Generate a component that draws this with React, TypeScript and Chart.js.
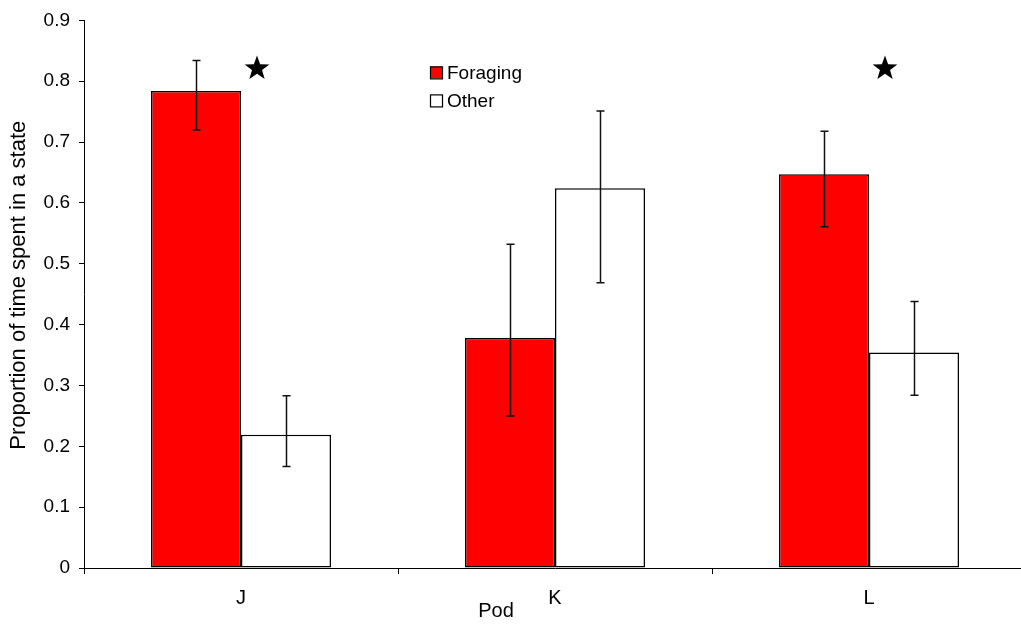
import React, { useEffect, useRef } from 'react';
import { Chart, registerables } from 'chart.js';

Chart.register(...registerables);

const categories = ['J', 'K', 'L'];
const seriesNames = ['Foraging', 'Other'];
const foraging = [0.784, 0.378, 0.647];
const other = [0.219, 0.624, 0.354];
const foragingLow = [0.72, 0.25, 0.561];
const foragingHigh = [0.834, 0.532, 0.718];
const otherLow = [0.167, 0.469, 0.284];
const otherHigh = [0.283, 0.751, 0.438];
const yTickLabels = ['0', '0.1', '0.2', '0.3', '0.4', '0.5', '0.6', '0.7', '0.8', '0.9'];
const starCategories = ['J', 'L'];
const starValue = 0.821;
const xTitle = 'Pod';
const yTitle = 'Proportion of time spent in a state';

const FONT = "'Liberation Sans', Arial, sans-serif";
const fillColors = ['#ff0000', '#ffffff'];

const errorBars = [
  { low: foragingLow, high: foragingHigh },
  { low: otherLow, high: otherHigh },
];

function drawStar(ctx: CanvasRenderingContext2D, cx: number, cy: number, R: number, r: number) {
  ctx.beginPath();
  for (let i = 0; i < 10; i++) {
    const rad = i % 2 === 0 ? R : r;
    const a = -Math.PI / 2 + (i * Math.PI) / 5;
    const x = cx + rad * Math.cos(a);
    const y = cy + rad * Math.sin(a);
    if (i === 0) ctx.moveTo(x, y);
    else ctx.lineTo(x, y);
  }
  ctx.closePath();
  ctx.fill();
}

const extrasPlugin = {
  id: 'extras',
  afterDatasetsDraw(chart: any) {
    const ctx: CanvasRenderingContext2D = chart.ctx;
    const y = chart.scales.y;
    ctx.save();
    ctx.strokeStyle = '#111';
    ctx.lineWidth = 1.5;
    errorBars.forEach((eb, di) => {
      const meta = chart.getDatasetMeta(di);
      meta.data.forEach((bar: any, j: number) => {
        const x = Math.round(bar.x) + 0.5;
        const yl = y.getPixelForValue(eb.low[j]);
        const yh = y.getPixelForValue(eb.high[j]);
        ctx.beginPath();
        ctx.moveTo(x, yl);
        ctx.lineTo(x, yh);
        ctx.moveTo(x - 4, yl);
        ctx.lineTo(x + 4, yl);
        ctx.moveTo(x - 4, yh);
        ctx.lineTo(x + 4, yh);
        ctx.stroke();
      });
    });
    ctx.restore();
  },
  afterDraw(chart: any) {
    const ctx: CanvasRenderingContext2D = chart.ctx;
    const xs = chart.scales.x;
    const ys = chart.scales.y;
    const area = chart.chartArea;
    ctx.save();
    // stars
    ctx.fillStyle = '#000';
    const catW = (xs.right - xs.left) / categories.length;
    starCategories.forEach((c) => {
      const idx = categories.indexOf(c);
      const cx = xs.getPixelForValue(idx) + catW * 0.051;
      const cy = ys.getPixelForValue(starValue);
      drawStar(ctx, cx, cy, 13, 5.3);
    });
    // legend
    const lx = area.left + 346;
    const ly = area.top + 46;
    seriesNames.forEach((name, i) => {
      const top = ly + i * 28;
      ctx.fillStyle = fillColors[i];
      ctx.fillRect(lx, top, 12, 12);
      ctx.strokeStyle = '#000';
      ctx.lineWidth = 1.2;
      ctx.strokeRect(lx + 0.5, top + 0.5, 12, 12);
      ctx.fillStyle = '#000';
      ctx.font = `19px ${FONT}`;
      ctx.textAlign = 'left';
      ctx.textBaseline = 'middle';
      ctx.fillText(name, lx + 17, top + 7);
    });
    // x title
    ctx.font = `20px ${FONT}`;
    ctx.textAlign = 'center';
    ctx.textBaseline = 'alphabetic';
    ctx.fillStyle = '#000';
    ctx.fillText(xTitle, (xs.left + xs.right) / 2 - 59, area.bottom + 49);
    // y title
    ctx.save();
    ctx.translate(19, (area.top + area.bottom) / 2 - 9);
    ctx.rotate(-Math.PI / 2);
    ctx.font = `22px ${FONT}`;
    ctx.textAlign = 'center';
    ctx.textBaseline = 'middle';
    ctx.fillText(yTitle, 0, 0);
    ctx.restore();
    ctx.restore();
  },
};

export default function App() {
  const ref = useRef<HTMLCanvasElement | null>(null);
  useEffect(() => {
    if (!ref.current) return;
    const chart = new Chart(ref.current, {
      type: 'bar',
      data: {
        labels: categories,
        datasets: [
          {
            label: seriesNames[0],
            data: foraging,
            backgroundColor: fillColors[0],
            borderColor: '#000',
            borderWidth: 1.5,
            borderSkipped: false,
          },
          {
            label: seriesNames[1],
            data: other,
            backgroundColor: fillColors[1],
            borderColor: '#000',
            borderWidth: 1.5,
            borderSkipped: false,
          },
        ],
      },
      options: {
        responsive: false,
        animation: false,
        devicePixelRatio: 1,
        layout: { padding: { top: 19, right: 14, left: 0, bottom: 0 } },
        datasets: { bar: { categoryPercentage: 0.5732, barPercentage: 1 } },
        plugins: {
          legend: { display: false },
          tooltip: { enabled: false },
          title: { display: false },
        },
        scales: {
          x: {
            offset: true,
            grid: { offset: true, drawOnChartArea: false, tickLength: 6, color: '#000', tickColor: '#000' },
            border: { color: '#000', width: 1 },
            ticks: { color: '#000', font: { family: FONT, size: 20 }, padding: 12, maxRotation: 0 },
            afterFit: (s: any) => {
              s.height = 56;
            },
          },
          y: {
            min: 0,
            max: 0.9,
            ticks: {
              stepSize: 0.1,
              color: '#000',
              font: { family: FONT, size: 19 },
              padding: 9,
              callback: (_v: any, i: number) => yTickLabels[i],
            },
            grid: { drawOnChartArea: false, tickLength: 5, color: '#000', tickColor: '#000' },
            border: { color: '#000', width: 1 },
            afterFit: (s: any) => {
              s.width = 84;
            },
          },
        },
      },
      plugins: [extrasPlugin],
    });
    return () => chart.destroy();
  }, []);
  return (
    <div style={{ position: 'fixed', left: 0, top: 0, width: 1021, height: 624, overflow: 'hidden', background: '#fff' }}>
      <canvas ref={ref} width={1040} height={624} style={{ display: 'block', width: 1040, height: 624 }} />
    </div>
  );
}
